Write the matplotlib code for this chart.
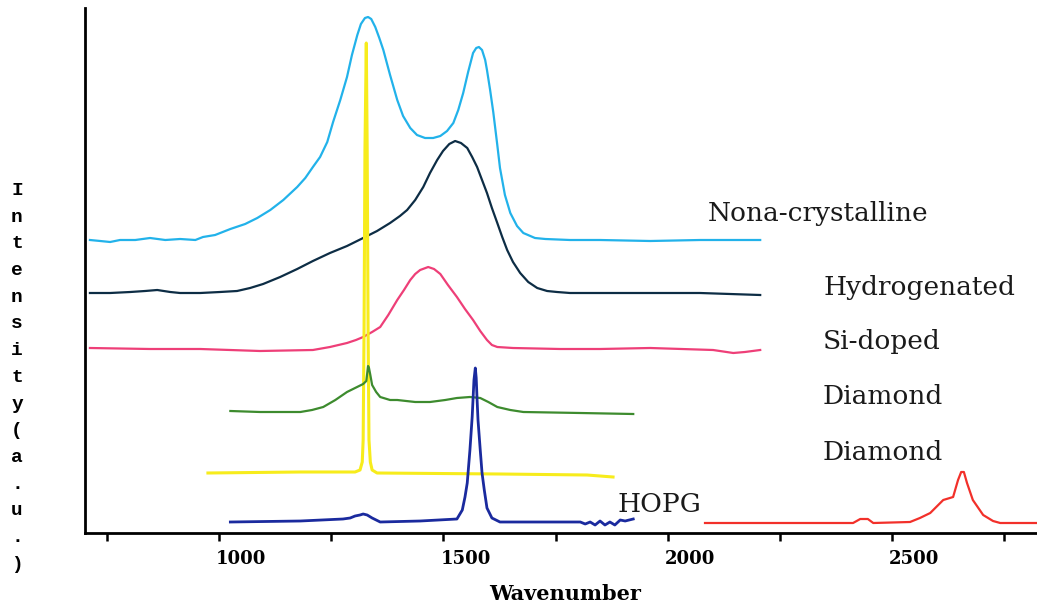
import matplotlib
matplotlib.use("Agg")
import matplotlib.pyplot as plt
from matplotlib.transforms import ScaledTranslation

# ---------------- data (wavenumber, intensity a.u.) ----------------
nano_x = [712, 735, 757, 779, 813, 846, 880, 913, 947, 964,
          991, 1025, 1058, 1085, 1114, 1143, 1174, 1192, 1209, 1225,
          1241, 1254, 1270, 1285, 1296, 1308, 1316, 1325, 1332, 1339,
          1348, 1357, 1366, 1381, 1397, 1410, 1426, 1441, 1459, 1477,
          1493, 1508, 1522, 1533, 1544, 1555, 1566, 1573, 1579, 1586,
          1593, 1597, 1604, 1611, 1620, 1626, 1637, 1649, 1664, 1678,
          1704, 1727, 1782, 1849, 1961, 2072, 2206]
nano_y = [293, 292, 291, 293, 293, 295, 293, 294, 293, 296,
          298, 304, 309, 315, 323, 333, 346, 355, 366, 376,
          391, 411, 433, 456, 478, 498, 509, 515, 516, 514,
          506, 495, 483, 458, 433, 417, 405, 398, 395, 395,
          397, 402, 410, 423, 440, 461, 480, 485, 486, 483,
          473, 463, 443, 421, 388, 365, 338, 320, 307, 300,
          295, 294, 293, 293, 292, 293, 293]

hydro_x = [712, 757, 802, 835, 862, 891, 913, 958, 1002, 1040,
           1069, 1098, 1136, 1174, 1209, 1247, 1285, 1321, 1352, 1381,
           1403, 1419, 1437, 1455, 1470, 1486, 1499, 1513, 1526, 1539,
           1553, 1564, 1575, 1586, 1597, 1608, 1620, 1631, 1642, 1655,
           1671, 1689, 1709, 1731, 1753, 1782, 1961, 2072, 2206]
hydro_y = [240, 240, 241, 242, 243, 241, 240, 240, 241, 242,
           245, 249, 256, 264, 272, 280, 287, 295, 302, 310,
           317, 323, 333, 346, 360, 373, 382, 389, 392, 390,
           385, 376, 366, 353, 340, 325, 310, 296, 283, 271,
           260, 251, 245, 242, 241, 240, 240, 240, 238]

si_x = [712, 846, 958, 1091, 1209, 1247, 1285, 1305, 1321, 1341,
        1359, 1377, 1397, 1412, 1426, 1437, 1448, 1466, 1479, 1493,
        1510, 1530, 1548, 1566, 1582, 1597, 1608, 1620, 1655, 1760,
        1849, 1961, 2101, 2146, 2172, 2206]
si_y = [185, 184, 184, 182, 183, 186, 190, 193, 196, 201,
        206, 218, 233, 243, 253, 259, 263, 266, 264, 259,
        248, 236, 224, 213, 202, 193, 188, 186, 185, 184,
        184, 185, 183, 180, 181, 183]

dia1_x = [1025, 1091, 1181, 1207, 1232, 1259, 1285, 1303, 1321, 1328,
          1332, 1334, 1337, 1341, 1350, 1359, 1381, 1397, 1437, 1470,
          1504, 1530, 1559, 1582, 1600, 1620, 1649, 1678, 1805, 1923]
dia1_y = [122, 121, 121, 123, 126, 133, 141, 145, 149, 152,
          167, 165, 158, 148, 141, 136, 133, 133, 131, 131,
          133, 135, 136, 135, 131, 126, 123, 121, 120, 119]

dia2_x = [975, 1181, 1303, 1314, 1319, 1321, 1323, 1325, 1328, 1330,
          1332, 1334, 1337, 1341, 1352, 1626, 1820, 1878]
dia2_y = [60, 61, 61, 63, 71, 93, 203, 383, 490, 383,
          203, 93, 71, 63, 60, 59, 58, 56]

hopg_x = [1025, 1181, 1276, 1292, 1303, 1314, 1321, 1330, 1341, 1359,
          1448, 1530, 1542, 1548, 1553, 1559, 1564, 1568, 1571, 1573,
          1575, 1577, 1582, 1586, 1591, 1597, 1608, 1626, 1805, 1816,
          1827, 1838, 1849, 1860, 1871, 1882, 1894, 1905, 1923]
hopg_y = [11, 12, 14, 15, 17, 18, 19, 18, 15, 11,
          12, 14, 23, 36, 50, 83, 116, 153, 165, 155,
          133, 113, 83, 60, 43, 25, 15, 11, 11, 9,
          11, 8, 12, 8, 11, 8, 13, 12, 14]

red_x = [2083, 2413, 2429, 2446, 2458, 2540, 2562, 2585, 2614, 2636, 2647, 2654, 2660,
         2667, 2680, 2703, 2725, 2741, 2823]
red_y = [10, 10, 14, 14, 10, 11, 15, 20, 33, 36, 53, 61, 61, 50, 33, 18, 12, 10, 10]

labels = ["Nona-crystalline", "Hydrogenated", "Si-doped", "Diamond", "Diamond", "HOPG"]
label_x = [2088, 2346, 2346, 2346, 2346, 1889]
label_y = [320, 246, 192, 136, 80, 28]

tick_pos = [750, 1000, 1250, 1500, 1750, 2000, 2250, 2500, 2750]
tick_lab = ["", "1000", "", "1500", "", "2000", "", "2500", ""]

# ---------------- figure ----------------
fig = plt.figure(figsize=(10.37, 6.09), dpi=100)
ax = fig.add_axes([85 / 1037, 76 / 609, 952 / 1037, 525 / 609])

ax.plot(nano_x, nano_y, color="#22b2ea", lw=1.6, zorder=3)
ax.plot(hydro_x, hydro_y, color="#0d2d45", lw=1.6, zorder=3)
ax.plot(si_x, si_y, color="#ee3f78", lw=1.6, zorder=3)
ax.plot(dia2_x, dia2_y, color="#f7ec1c", lw=2.2, zorder=4)
ax.plot(dia1_x, dia1_y, color="#3d8b2e", lw=1.6, zorder=5)
ax.plot(hopg_x, hopg_y, color="#1a2a9e", lw=2.0, zorder=5)
ax.plot(red_x, red_y, color="#f2302a", lw=1.6, zorder=5)

for t, x, y in zip(labels, label_x, label_y):
    ax.text(x, y, t, ha="left", va="center", fontsize=19, family="DejaVu Serif",
            color="#1a1a1a")

ax.set_xlim(701, 2823)
ax.set_ylim(0, 525)
ax.spines["top"].set_visible(False)
ax.spines["right"].set_visible(False)
ax.spines["left"].set_linewidth(2)
ax.spines["bottom"].set_linewidth(2)
ax.set_yticks([])
ax.set_xticks(tick_pos)
ax.set_xticklabels(tick_lab, fontsize=13, fontweight="bold", family="DejaVu Serif")
ax.tick_params(axis="x", direction="out", length=6, width=1.8, pad=6)
off = ScaledTranslation(22 / 100, 0, fig.dpi_scale_trans)
for lbl in ax.get_xticklabels():
    lbl.set_transform(lbl.get_transform() + off)

fig.text(565 / 1037, 1 - 594 / 609, "Wavenumber", ha="center", va="center",
         fontsize=15, fontweight="bold", family="DejaVu Serif")

ylabel = "Intensity(a.u.)"
for i, ch in enumerate(ylabel):
    fig.text(17 / 1037, 1 - (195 + i * 26.7) / 609, ch, ha="center", va="baseline",
             fontsize=14, fontweight="bold", family="Liberation Mono")

fig.savefig("out.png", dpi=100)
